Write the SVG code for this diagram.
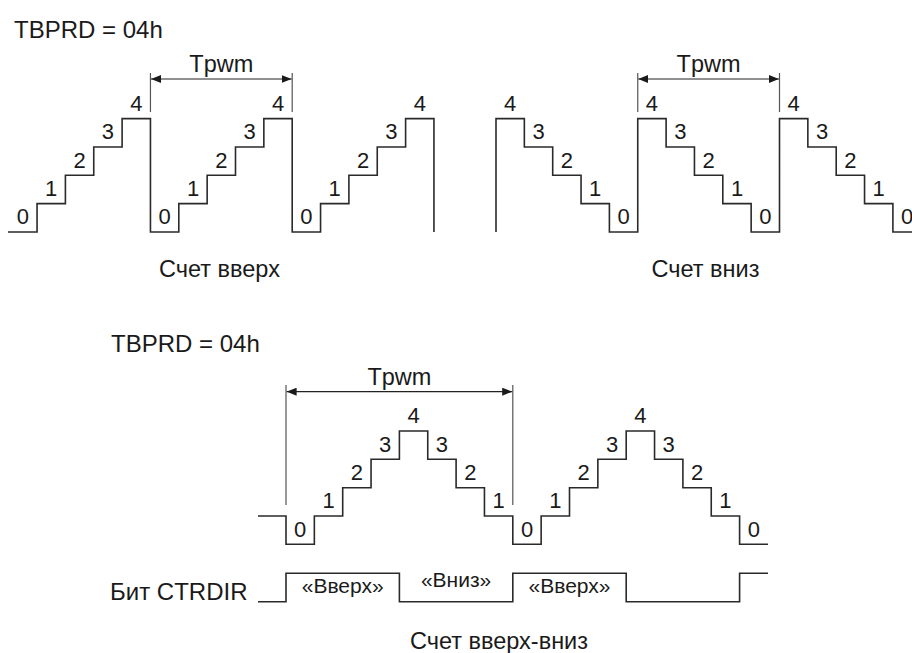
<svg xmlns="http://www.w3.org/2000/svg" width="912" height="653" viewBox="0 0 912 653">
<style>
text{font-family:"Liberation Sans",Arial,sans-serif;fill:#1a1a1a}
.lbl{font-size:24px}
.d{font-size:22px;text-anchor:middle}
.q{font-size:21px;text-anchor:middle}
.t{font-size:23.5px;text-anchor:middle}
.w{fill:none;stroke:#2a2a2a;stroke-width:1.6}
.tick{stroke:#555;stroke-width:1.2}
.dim{stroke:#222;stroke-width:1.2;marker-start:url(#ar);marker-end:url(#ar)}
</style>
<defs>
<marker id="ar" viewBox="0 0 10 8" refX="10" refY="4" markerWidth="10" markerHeight="8" markerUnits="userSpaceOnUse" orient="auto-start-reverse">
<path d="M0,0 L10,4 L0,8 Z" fill="#1a1a1a"/>
</marker>
</defs>
<rect width="912" height="653" fill="#fff"/>

<g id="up">
<text class="lbl" x="14" y="38">TBPRD = 04h</text>
<path class="w" d="M8,232 H37.05 V203.65 H65.4 V175.3 H93.75 V146.95 H122.1 V118.6 H150.45 V232 H178.8 V203.65 H207.15 V175.3 H235.5 V146.95 H263.85 V118.6 H292.2 V232 H320.55 V203.65 H348.9 V175.3 H377.25 V146.95 H405.6 V118.6 H433.95 V232"/>
<g class="d">
<text x="22.9" y="224.4">0</text><text x="51.2" y="196">1</text><text x="79.6" y="167.7">2</text><text x="107.9" y="139.3">3</text><text x="136.3" y="111">4</text>
<text x="164.6" y="224.4">0</text><text x="193" y="196">1</text><text x="221.3" y="167.7">2</text><text x="249.7" y="139.3">3</text><text x="278" y="111">4</text>
<text x="306.4" y="224.4">0</text><text x="334.7" y="196">1</text><text x="363.1" y="167.7">2</text><text x="391.4" y="139.3">3</text><text x="419.8" y="111">4</text>
</g>
<text class="t" x="221.3" y="71.7">Tpwm</text>
<text class="t" x="219.5" y="277.3">Счет вверх</text>
</g>

<g id="down">
<path class="w" d="M496,232 V118.6 H524.35 V146.95 H552.7 V175.3 H581.05 V203.65 H609.4 V232 H637.75 V118.6 H666.1 V146.95 H694.45 V175.3 H722.8 V203.65 H751.15 V232 H779.5 V118.6 H807.85 V146.95 H836.2 V175.3 H864.55 V203.65 H892.9 V232 H912"/>
<g class="d">
<text x="510.2" y="111">4</text><text x="538.5" y="139.3">3</text><text x="566.9" y="167.7">2</text><text x="595.2" y="196">1</text><text x="623.6" y="224.4">0</text>
<text x="651.9" y="111">4</text><text x="680.3" y="139.3">3</text><text x="708.6" y="167.7">2</text><text x="737" y="196">1</text><text x="765.3" y="224.4">0</text>
<text x="793.7" y="111">4</text><text x="822" y="139.3">3</text><text x="850.4" y="167.7">2</text><text x="878.7" y="196">1</text><text x="907.1" y="224.4">0</text>
</g>
<text class="t" x="708.6" y="71.7">Tpwm</text>
<text class="t" x="705.5" y="277.3">Счет вниз</text>
</g>

<g id="updown">
<text class="lbl" x="111" y="351.7">TBPRD = 04h</text>
<path class="w" d="M258,516 H286 V544.3 H314.35 V516 H342.7 V487.7 H371.05 V459.3 H399.4 V431 H427.75 V459.3 H456.1 V487.7 H484.45 V516 H512.8 V544.3 H541.15 V516 H569.5 V487.7 H597.85 V459.3 H626.2 V431 H654.55 V459.3 H682.9 V487.7 H711.25 V516 H739.6 V544.3 H768"/>
<g class="d">
<text x="300.2" y="536.7">0</text><text x="328.5" y="508.4">1</text><text x="356.9" y="480.1">2</text><text x="385.2" y="451.7">3</text><text x="413.6" y="423.4">4</text>
<text x="441.9" y="451.7">3</text><text x="470.3" y="480.1">2</text><text x="498.6" y="508.4">1</text><text x="527" y="536.7">0</text>
<text x="555.3" y="508.4">1</text><text x="583.7" y="480.1">2</text><text x="612" y="451.7">3</text><text x="640.4" y="423.4">4</text>
<text x="668.7" y="451.7">3</text><text x="697.1" y="480.1">2</text><text x="725.4" y="508.4">1</text><text x="753.8" y="536.7">0</text>
</g>
<text class="t" x="399.4" y="385">Tpwm</text>
</g>

<g id="ctrdir">
<text class="lbl" x="110" y="600">Бит CTRDIR</text>
<path class="w" d="M258,601.7 H286 V573.3 H399.4 V601.7 H512.8 V573.3 H626.2 V601.7 H739.6 V573.3 H768"/>
<text class="q" x="342.7" y="593">«Вверх»</text>
<text class="q" x="456.1" y="587">«Вниз»</text>
<text class="q" x="569.5" y="593">«Вверх»</text>
<text class="t" x="499" y="649">Счет вверх-вниз</text>
</g>

<g id="connectors">
<line class="tick" x1="150.45" y1="73" x2="150.45" y2="112"/>
<line class="tick" x1="292.2" y1="73" x2="292.2" y2="112"/>
<line class="dim" x1="151" y1="79" x2="291.6" y2="79"/>
<line class="tick" x1="637.75" y1="73" x2="637.75" y2="112"/>
<line class="tick" x1="779.5" y1="73" x2="779.5" y2="112"/>
<line class="dim" x1="638.3" y1="79" x2="778.9" y2="79"/>
<line class="tick" x1="286" y1="385" x2="286" y2="505"/>
<line class="tick" x1="512.8" y1="385" x2="512.8" y2="505"/>
<line class="dim" x1="286.6" y1="391.7" x2="512.2" y2="391.7"/>
</g>
</svg>
